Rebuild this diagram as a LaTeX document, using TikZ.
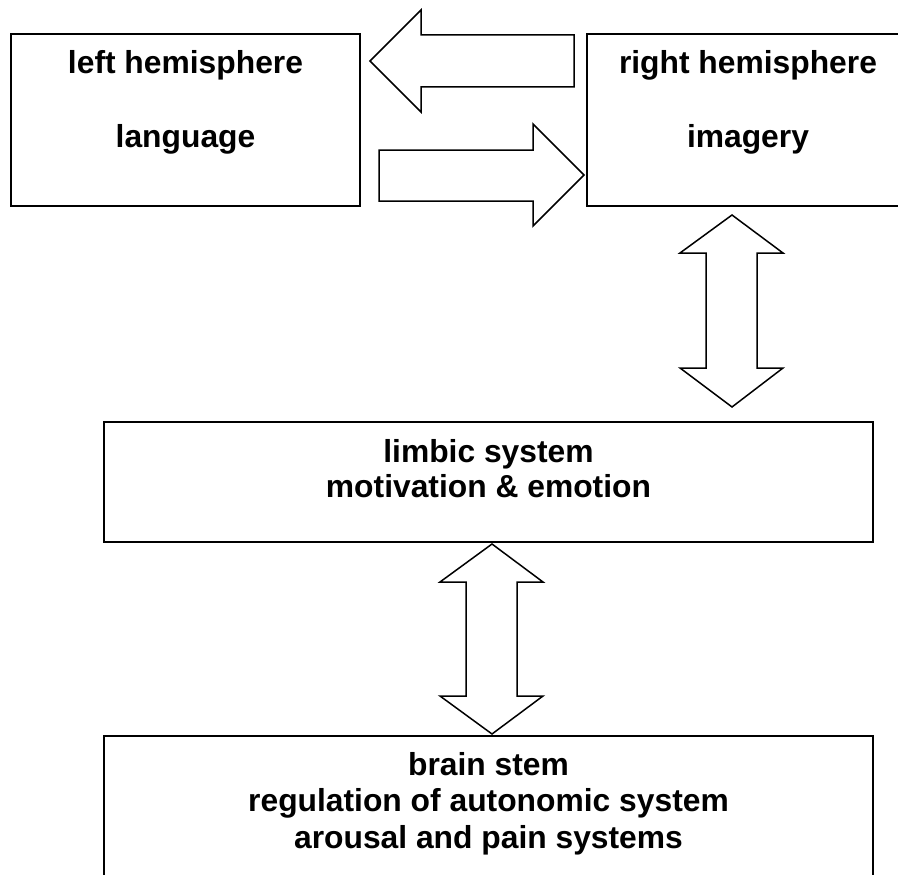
\documentclass[tikz,border=0pt]{standalone}
\usepackage{fontspec}
\setmainfont{Liberation Sans}
\begin{document}
\begin{tikzpicture}[x=1pt,y=-1pt,
  boxst/.style={draw=black,line width=2pt,fill=white},
  blockarrow/.style={draw=black,line width=1.5pt,fill=white,line join=miter},
  lbl/.style={anchor=base,inner sep=0pt,font=\fontsize{31.8}{36}\selectfont\bfseries}]
\useasboundingbox (0,0) rectangle (898,875);
\clip (0,0) rectangle (898,875);
% boxes
\draw[boxst] (11,34) rectangle (360,206);
\coordinate (lefthem) at (185.5,120);
\draw[boxst] (587,34) rectangle (910,206);
\coordinate (righthem) at (748,120);
\draw[boxst] (104,422) rectangle (873,542);
\coordinate (limbic) at (488.5,482);
\draw[boxst] (104,736) rectangle (873,900);
\coordinate (brainstem) at (488.5,818);
% texts
\node[lbl] (t1) at (185.5,74) {left hemisphere};
\node[lbl] (t2) at (185.5,147) {language};
\node[lbl] (t3) at (748,74) {right hemisphere};
\node[lbl] (t4) at (748,147) {imagery};
\node[lbl] (t5) at (488.5,462) {limbic system};
\node[lbl] (t6) at (488.5,497) {motivation \& emotion};
\node[lbl] (t7) at (488.5,775) {brain stem};
\node[lbl] (t8) at (488.5,811.5) {regulation of autonomic system};
\node[lbl] (t9) at (488.5,848) {arousal and pain systems};
% block arrows
\draw[blockarrow] (370,61) -- (421,10) -- (421,35) -- (574,35) -- (574,87) -- (421,87) -- (421,112) -- cycle;
\draw[blockarrow] (379,150) -- (533,150) -- (533,124) -- (584,175) -- (533,226) -- (533,201) -- (379,201) -- cycle;
\draw[blockarrow] (732,215) -- (783,253) -- (757,253) -- (757,368) -- (783,368) -- (732,407) -- (680,368) -- (706,368) -- (706,253) -- (680,253) -- cycle;
\draw[blockarrow] (492,544) -- (543,582) -- (517,582) -- (517,696) -- (543,696) -- (492,734) -- (440,696) -- (466,696) -- (466,582) -- (440,582) -- cycle;
\end{tikzpicture}
\end{document}
